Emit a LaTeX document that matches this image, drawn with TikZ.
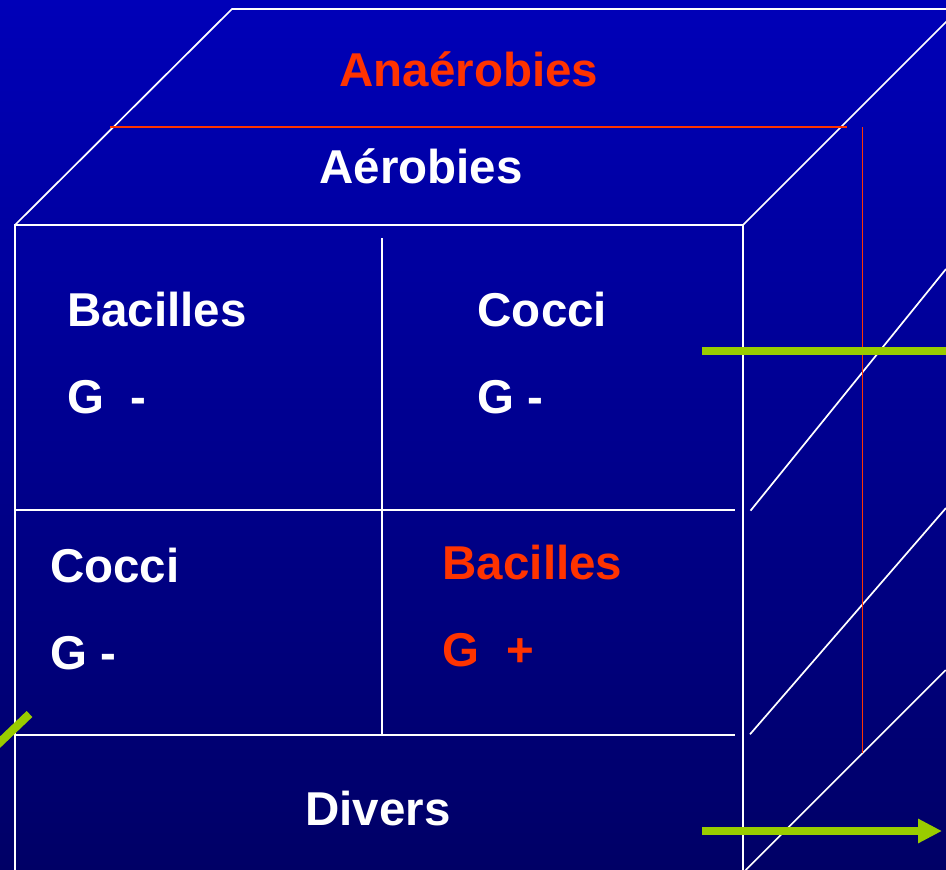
\documentclass[tikz,border=0pt]{standalone}
\usepackage{fontspec}
\setmainfont{Liberation Sans}
\usetikzlibrary{arrows.meta}

\definecolor{bgtop}{RGB}{0,0,184}
\definecolor{bgbot}{RGB}{0,0,102}
\definecolor{redlbl}{RGB}{255,51,0}
\definecolor{limeg}{RGB}{153,204,0}

\tikzset{
  edge/.style={draw=white, line width=1.7pt},
  redline/.style={draw=redlbl, line width=1.8pt},
  greenbar/.style={draw=limeg, line width=8.3pt},
  lbl/.style={inner sep=0pt, font=\fontsize{47.5}{56}\selectfont\bfseries},
  wlbl/.style={lbl, text=white},
  rlbl/.style={lbl, text=redlbl}
}

\begin{document}
\begin{tikzpicture}[x=1pt, y=-1pt]
  % canvas and shaded backdrop
  \useasboundingbox (0,0) rectangle (946,870);
  \shade[top color=bgtop, bottom color=bgbot] (0,0) rectangle (946,870);
  \clip (0,0) rectangle (946,870);

  % corners of the box
  \coordinate (fl) at (15,225);
  \coordinate (fr) at (743,225);
  \coordinate (flb) at (15,880);
  \coordinate (frb) at (743,880);
  \coordinate (bl) at (232,9);
  \coordinate (br) at (960,9);
  \coordinate (brr) at (960,8);

  % front face and top face
  \draw[edge] (flb) -- (fl) -- (fr) -- (frb);
  \draw[edge] (fl) -- (bl) -- (br);
  \draw[edge] (fr) -- (brr);

  % inner partitions of the front face
  \coordinate (vt) at (382,238);
  \coordinate (vb) at (382,735);
  \coordinate (m1l) at (15,510);
  \coordinate (m1r) at (735,510);
  \coordinate (m2l) at (15,735);
  \coordinate (m2r) at (735,735);
  \draw[edge] (vt) -- (vb);
  \draw[edge] (m1l) -- (m1r);
  \draw[edge] (m2l) -- (m2r);

  % slanted lines on the side face
  \coordinate (s1a) at (750.5,510.7);
  \coordinate (s1b) at (946,269);
  \coordinate (s2a) at (750,734.3);
  \coordinate (s2b) at (946,508);
  \coordinate (s3a) at (745.7,870);
  \coordinate (s3b) at (945.7,670);
  \draw[edge] (s1a) -- (s1b);
  \draw[edge] (s2a) -- (s2b);
  \draw[edge] (s3a) -- (s3b);

  % red layer behind
  \coordinate (ra) at (110,127);
  \coordinate (rb) at (847,127);
  \coordinate (rc) at (862.5,127);
  \coordinate (rd) at (862.5,753);
  \draw[redline] (ra) -- (rb);
  \draw[redline] (rc) -- (rd);

  % green markers
  \coordinate (g1a) at (702,350.7);
  \coordinate (g1b) at (950,350.7);
  \draw[greenbar] (g1a) -- (g1b);
  \coordinate (g2a) at (702,831);
  \coordinate (g2b) at (942,831);
  \draw[greenbar, -{Triangle[length=24pt, width=23pt]}] (g2a) -- (g2b);
  \coordinate (g3a) at (-4,746);
  \coordinate (g3b) at (29.5,714);
  \draw[greenbar] (g3a) -- (g3b);

  % labels
  \node[rlbl, anchor=base] (anaer) at (469,86) {Anaérobies};
  \node[wlbl, anchor=base] (aer) at (421,183) {Aérobies};
  \node[wlbl, anchor=base west] (bac1) at (67,326) {Bacilles};
  \node[wlbl, anchor=base west] (g1) at (67,413) {G~~-};
  \node[wlbl, anchor=base west] (coc1) at (477.5,326) {Cocci};
  \node[wlbl, anchor=base west] (g2) at (477.5,413) {G -};
  \node[wlbl, anchor=base west] (coc2) at (50,582) {Cocci};
  \node[wlbl, anchor=base west] (g3) at (50,669) {G -};
  \node[rlbl, anchor=base west] (bac2) at (442.5,579) {Bacilles};
  \node[rlbl, anchor=base west] (g4) at (442.5,666) {G~~+};
  \node[wlbl, anchor=base] (div) at (378,825) {Divers};
\end{tikzpicture}
\end{document}
